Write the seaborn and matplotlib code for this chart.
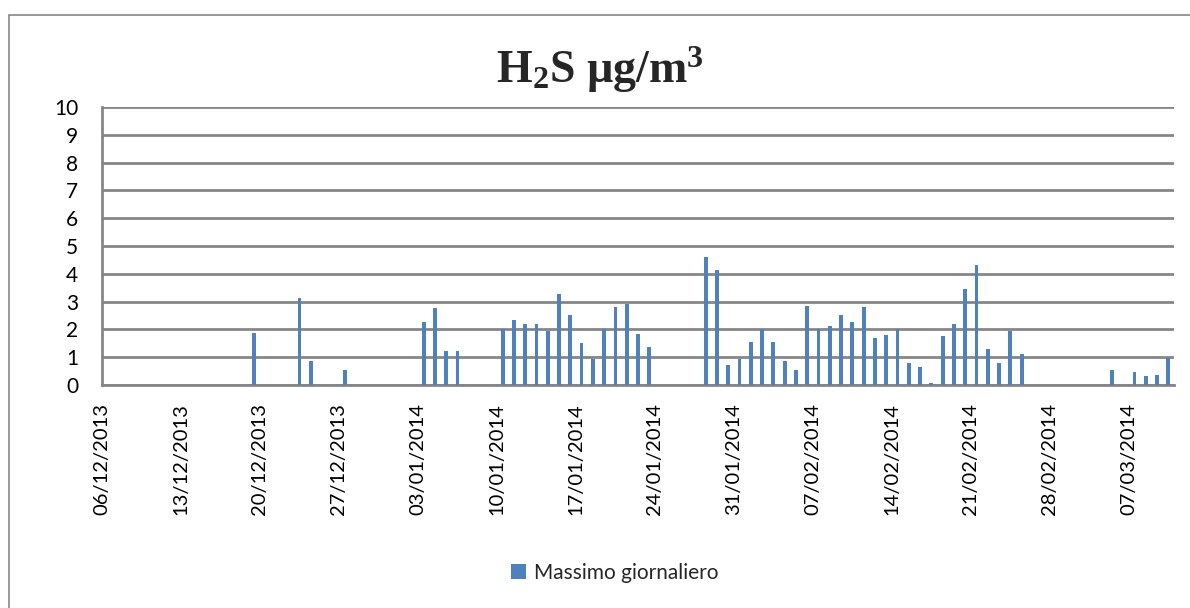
import numpy as np
import pandas as pd
import seaborn as sns
import matplotlib
matplotlib.use("Agg")
import matplotlib.pyplot as plt
from matplotlib.patches import Rectangle

# ---- data ----
dates = ["19/12/2013", "23/12/2013", "24/12/2013", "27/12/2013",
         "03/01/2014", "04/01/2014", "05/01/2014", "06/01/2014",
         "10/01/2014", "11/01/2014", "12/01/2014", "13/01/2014", "14/01/2014",
         "15/01/2014", "16/01/2014", "17/01/2014", "18/01/2014", "19/01/2014",
         "20/01/2014", "21/01/2014", "22/01/2014", "23/01/2014",
         "28/01/2014", "29/01/2014", "30/01/2014", "31/01/2014", "01/02/2014",
         "02/02/2014", "03/02/2014", "04/02/2014", "05/02/2014", "06/02/2014",
         "07/02/2014", "08/02/2014", "09/02/2014", "10/02/2014", "11/02/2014",
         "12/02/2014", "13/02/2014", "14/02/2014", "15/02/2014", "16/02/2014",
         "17/02/2014", "18/02/2014", "19/02/2014", "20/02/2014", "21/02/2014",
         "22/02/2014", "23/02/2014", "24/02/2014", "25/02/2014",
         "05/03/2014", "07/03/2014", "08/03/2014", "09/03/2014", "10/03/2014"]
values = [1.87, 3.13, 0.87, 0.55,
          2.27, 2.77, 1.23, 1.23,
          2.00, 2.35, 2.20, 2.20, 1.95,
          3.28, 2.53, 1.52, 0.95, 2.00,
          2.82, 2.92, 1.85, 1.35,
          4.62, 4.15, 0.73, 0.95, 1.56,
          2.00, 1.56, 0.87, 0.55, 2.85,
          2.00, 2.13, 2.53, 2.27, 2.82,
          1.70, 1.81, 2.00, 0.80, 0.66,
          0.08, 1.77, 2.20, 3.47, 4.33,
          1.30, 0.80, 1.95, 1.12,
          0.55, 0.48, 0.34, 0.37, 0.98]
axis_start = "06/12/2013"
axis_end = "10/03/2014"
y_ticks = [0, 1, 2, 3, 4, 5, 6, 7, 8, 9, 10]
series_name = "Massimo giornaliero"
title_text = "H$_2$S µg/m$^3$"

# ---- build full daily table ----
full_days = pd.date_range(pd.to_datetime(axis_start, dayfirst=True),
                          pd.to_datetime(axis_end, dayfirst=True), freq="D")
obs = pd.Series(values, index=pd.to_datetime(dates, dayfirst=True))
df = pd.DataFrame({"date": full_days.strftime("%d/%m/%Y"),
                   "value": obs.reindex(full_days).values,
                   "series": series_name})

sns.set_theme(style="white")
plt.rcParams["font.family"] = ["Lato", "DejaVu Sans"]
plt.rcParams["mathtext.fontset"] = "custom"
plt.rcParams["mathtext.rm"] = "Liberation Serif:bold"
plt.rcParams["mathtext.it"] = "Liberation Serif:bold"
plt.rcParams["mathtext.bf"] = "Liberation Serif:bold"

W, H = 1190, 608
fig = plt.figure(figsize=(W / 100, H / 100), dpi=100)
ax = fig.add_axes([102 / W, 1 - 385 / H, (1174 - 102) / W, (385 - 107) / H])

bar_color = "#4F81BD"
grid_color = "#868686"

sns.barplot(data=df, x="date", y="value", hue="series", palette=[bar_color],
            width=0.34, ax=ax, saturation=1, legend=True, zorder=3,
            linewidth=0, edgecolor="none")

n = len(full_days)
ax.set_xlim(-0.5, n - 0.5)
ax.set_ylim(0, 10)
ax.set_yticks(y_ticks)
ax.set_yticklabels([str(t) for t in y_ticks], fontsize=15, color="black")
tick_pos = np.arange(0, n, 7)
ax.set_xticks(tick_pos - 0.5)
ax.set_xticklabels([df["date"].iloc[i] for i in tick_pos], rotation=90,
                   fontsize=14.5, color="black")
ax.set_xlabel("")
ax.set_ylabel("")

ax.grid(axis="y", color=grid_color, linewidth=2, zorder=0)
ax.set_axisbelow(True)
for s in ["top", "right"]:
    ax.spines[s].set_visible(False)
for s in ["left", "bottom"]:
    ax.spines[s].set_color(grid_color)
    ax.spines[s].set_linewidth(2)
ax.tick_params(axis="both", which="both", direction="out", length=9,
               width=2, color=grid_color, pad=4)
ax.tick_params(axis="y", length=10, pad=7)

leg = ax.legend(loc="center", bbox_to_anchor=(615 / W, 1 - 573 / H),
                bbox_transform=fig.transFigure, frameon=False, fontsize=15,
                handlelength=0.7, handleheight=0.7, handletextpad=0.4)

fig.text(600 / W, 1 - 70 / H, title_text, ha="center", va="center",
         fontsize=33, family="Liberation Serif", weight="bold")

# outer chart border
fig.patches.append(Rectangle((9 / W, -0.1), 1.2, 1 - 15 / H + 0.1,
                             transform=fig.transFigure, fill=False,
                             edgecolor=grid_color, linewidth=1.2))

fig.savefig("out.png", dpi=100)
